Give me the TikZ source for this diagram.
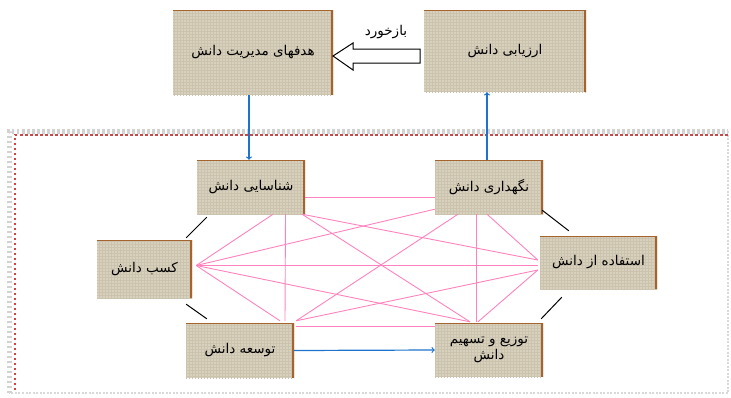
\documentclass[tikz,border=0pt]{standalone}
\usepackage{fontspec}
\usepackage{tikz}
\usetikzlibrary{patterns}
\newfontfamily\fa[Script=Arabic]{DejaVu Sans}
\TeXXeTstate=1
\definecolor{burlap}{RGB}{216,209,190}
\definecolor{weave}{RGB}{204,195,175}
\definecolor{edgebrown}{RGB}{165,100,45}
\definecolor{flowblue}{RGB}{30,115,205}
\definecolor{meshpink}{RGB}{255,130,190}
\definecolor{framered}{RGB}{205,70,70}

\begin{document}
\begin{tikzpicture}[x=1pt, y=-1pt,
    box/.style={preaction={fill=burlap}, pattern=grid, pattern color=weave,
        path picture={
            \draw[edgebrown, line width=4pt] (path picture bounding box.north east) -- (path picture bounding box.south east);
            \draw[edgebrown, line width=1.6pt] (path picture bounding box.north west) -- (path picture bounding box.north east);},
        align=center, font=\fa\fontsize{13.5}{16}\selectfont},
    mesh/.style={meshpink, line width=0.9pt},
    link/.style={black, line width=1pt},
    flow/.style={flowblue, line width=1.2pt, ->}]
    \useasboundingbox (0,0) rectangle (731,397);

    % Dashed frame round the cycle
    \draw[gray!35, line width=5pt, dash pattern=on 2.5pt off 2.5pt] (9,393) |- (728,131);
    \draw[gray!30, line width=1.5pt, dash pattern=on 2pt off 1.5pt] (728,131) |- (9,393);
    \draw[framered, line width=1.8pt, dash pattern=on 2.5pt off 2.5pt] (15,390) |- (728,135);

    % Top boxes
    \node[box, minimum width=160pt, minimum height=85pt] (goals) at (253,52.5) {\beginR هدفهای مدیریت دانش\endR};
    \node[box, minimum width=162pt, minimum height=82pt] (eval) at (505,51) {\beginR ارزیابی دانش\endR};

    % Cycle boxes
    \node[box, minimum width=108pt, minimum height=54pt] (ident) at (251,187) {\beginR شناسایی دانش\endR};
    \node[box, minimum width=108pt, minimum height=54pt] (maint) at (489,187) {\beginR نگهداری دانش\endR};
    \node[box, minimum width=95pt, minimum height=58pt] (acq) at (144.5,269) {\beginR کسب دانش\endR};
    \node[box, minimum width=117pt, minimum height=53pt] (use) at (598.5,262.5) {\beginR استفاده از دانش\endR};
    \node[box, minimum width=108pt, minimum height=55pt] (dev) at (240,350.5) {\beginR توسعه دانش\endR};
    \node[box, minimum width=108pt, minimum height=54pt] (dist) at (489,350) {\beginR توزیع و تسهیم\endR\\\beginR دانش\endR};

    % Feedback arrow
    \draw[line width=1pt, fill=white] (420,49) -- (353,49) -- (353,43) -- (333,56) -- (353,70) -- (353,63) -- (420,63) -- cycle;
    \node[font=\fa\fontsize{13.5}{16}\selectfont] (fb) at (386,32) {\beginR بازخورد\endR};

    % Blue arrows
    \draw[flow] ([xshift=-4pt]goals.south) -- ([xshift=-4pt]goals.south |- ident.north);
    \draw[flow] ([xshift=-2pt]maint.north) -- ([xshift=-2pt]maint.north |- eval.south);
    \draw[flow] (dev.east) -- (dist.west);

    % Pink mesh, every pair of cycle boxes
    \coordinate (acqP) at ([xshift=4pt, yshift=3.5pt]acq.east);
    \draw[mesh] ([yshift=-10.5pt]ident.east) -- ([yshift=-10.5pt]maint.west);
    \draw[mesh] ([xshift=22pt]ident.south) -- (acqP);
    \draw[mesh] ([xshift=34.5pt]ident.south) -- ([xshift=45pt, yshift=2pt]dev.north);
    \draw[mesh] ([xshift=51pt]ident.south) -- ([xshift=-2pt, yshift=2.5pt]use.west);
    \draw[mesh] ([xshift=51pt]ident.south) -- ([xshift=-19pt, yshift=1pt]dist.north);
    \draw[mesh] ([yshift=5pt]maint.south west) -- (acqP);
    \draw[mesh] ([xshift=-31pt]maint.south) -- ([xshift=2pt, yshift=2pt]dev.north east);
    \draw[mesh] ([xshift=-12.5pt]maint.south) -- ([xshift=-12.5pt, yshift=1pt]dist.north);
    \draw[mesh] ([xshift=-2pt]maint.south) -- ([xshift=-2pt, yshift=2.5pt]use.west);
    \draw[mesh] (acqP) -- ([xshift=-2pt, yshift=-3pt]use.west);
    \draw[mesh] (acqP) -- ([xshift=-19pt, yshift=1pt]dist.north);
    \draw[mesh] (acqP) -- ([xshift=40pt, yshift=2pt]dev.north);
    \draw[mesh] ([xshift=-2pt, yshift=-7.5pt]use.west) -- ([xshift=2pt, yshift=2pt]dev.north east);
    \draw[mesh] ([xshift=-2pt, yshift=-7.5pt]use.west) -- ([xshift=-11pt, yshift=1pt]dist.north);
    \draw[mesh] ([xshift=2pt, yshift=-3.5pt]dev.north east) -- ([yshift=-3.5pt]dist.north west);

    % Black links round the cycle
    \draw[link] ([xshift=10pt, yshift=-3pt]ident.south west) -- ([xshift=-6pt, yshift=2pt]acq.north east);
    \draw[link] ([xshift=-6pt, yshift=-6pt]acq.south east) -- ([xshift=21pt, yshift=4pt]dev.north west);
    \draw[link] ([xshift=-1pt, yshift=4pt]maint.south east) -- ([xshift=29pt, yshift=5pt]use.north west);
    \draw[link] ([xshift=22pt, yshift=-8pt]use.south west) -- ([xshift=-2pt, yshift=4pt]dist.north east);
\end{tikzpicture}
\end{document}
